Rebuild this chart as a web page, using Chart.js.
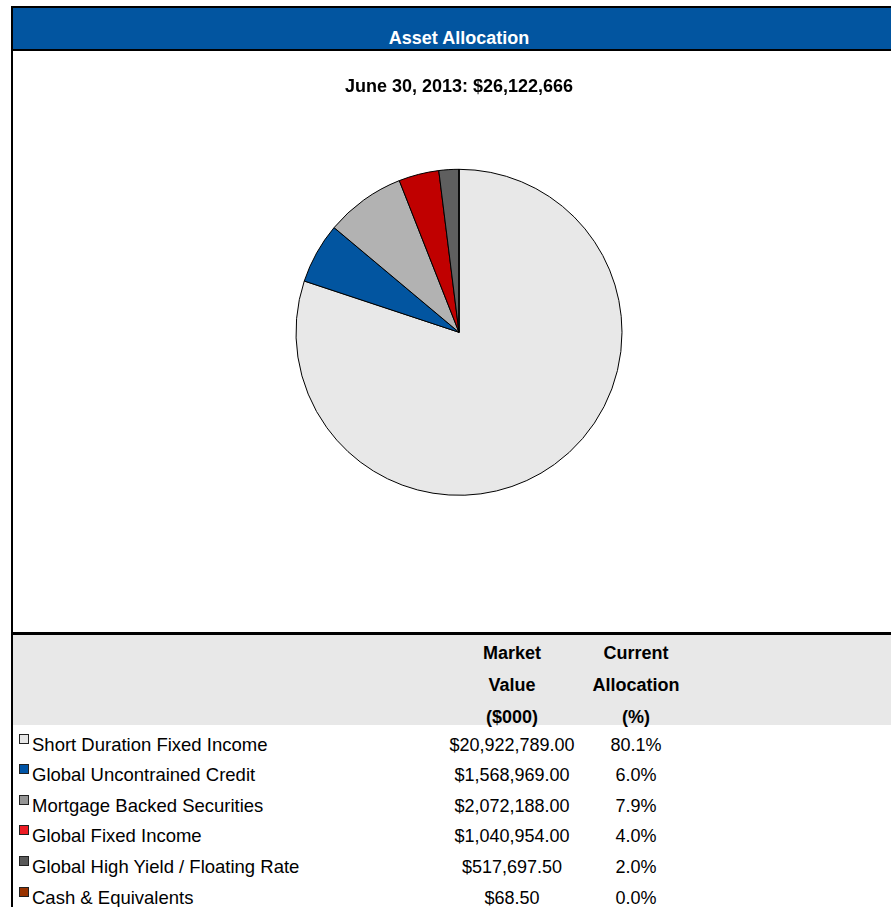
<!DOCTYPE html>
<html>
<head>
<meta charset="utf-8">
<script src="https://cdn.jsdelivr.net/npm/chart.js@4/dist/chart.umd.min.js"></script>
<style>
  html, body { margin: 0; padding: 0; background: #fff; }
  body { width: 891px; height: 907px; position: relative; overflow: hidden;
         font-family: "Liberation Sans", Arial, sans-serif; color: #000; }
  .abs { position: absolute; }
  #frameTop { left: 11px; top: 6px; width: 900px; height: 2px; background: #000; }
  #frameLeft { left: 11px; top: 6px; width: 2px; height: 910px; background: #000; }
  #banner { left: 13px; top: 8px; width: 892px; height: 41px; background: #0255A0; overflow: hidden;
            color: #fff; font-weight: bold; font-size: 18px; line-height: 60px; text-align: center; }
  #bannerRule { left: 13px; top: 49px; width: 900px; height: 2px; background: #000; }
  #chartBox { left: 13px; top: 51px; width: 892px; height: 581px; }
  #tableRule { left: 11px; top: 632px; width: 900px; height: 3px; background: #000; }
  #headBand { left: 13px; top: 635px; width: 900px; height: 90px; background: #E8E8E8; }
  .cell { position: absolute; height: 30px; line-height: 30px; font-size: 18px; white-space: nowrap; }
  .hd { font-weight: bold; text-align: center; width: 160px; }
  .num { text-align: center; width: 200px; }
  .lbl { left: 32px; font-size: 18.5px; }
  .sw { position: absolute; left: 19px; width: 10px; height: 10px; box-sizing: border-box;
        border: 1px solid #222; }
</style>
</head>
<body>
<div id="frameTop" class="abs"></div>
<div id="banner" class="abs">Asset Allocation</div>
<div id="bannerRule" class="abs"></div>
<div id="chartBox" class="abs"><canvas id="pie"></canvas></div>
<div id="tableRule" class="abs"></div>
<div id="headBand" class="abs"></div>
<div id="frameLeft" class="abs"></div>
<div id="table"></div>

<script>
// Portfolio holdings as of the report date
const reportTitle = "June 30, 2013: $26,122,666";
const categories = [
  "Short Duration Fixed Income",
  "Global Uncontrained Credit",
  "Mortgage Backed Securities",
  "Global Fixed Income",
  "Global High Yield / Floating Rate",
  "Cash & Equivalents"
];
const marketValues = [20922789.00, 1568969.00, 2072188.00, 1040954.00, 517697.50, 68.50];
const sliceColors = ["#E8E8E8", "#0255A0", "#B2B2B2", "#C00000", "#5F5F5F", "#993300"];
const swatchColors = ["#E6E6E6", "#0054A6", "#969696", "#ED1C24", "#595959", "#993300"];
const headerLines = [["Market", "Current"], ["Value", "Allocation"], ["($000)", "(%)"]];

const total = marketValues.reduce((a, b) => a + b, 0);

// Pie chart
new Chart(document.getElementById("pie"), {
  type: "pie",
  data: {
    labels: categories,
    datasets: [{
      data: marketValues,
      backgroundColor: sliceColors,
      borderColor: "#000",
      borderWidth: 1,
      radius: 163
    }]
  },
  options: {
    responsive: true,
    maintainAspectRatio: false,
    devicePixelRatio: 1,
    animation: false,
    layout: { padding: { top: 0, bottom: 75, left: 0, right: 0 } },
    plugins: {
      legend: { display: false },
      tooltip: { enabled: false },
      title: {
        display: true,
        text: reportTitle,
        color: "#000",
        font: { family: "'Liberation Sans', Arial, sans-serif", size: 18, weight: "bold", lineHeight: 1.2 },
        padding: { top: 25, bottom: 10 }
      }
    }
  }
});

// Holdings table below the chart
const table = document.getElementById("table");
const valueCenter = 512, pctCenter = 636;

headerLines.forEach((pair, i) => {
  const top = 652 + 32 * i - 14.5;
  const a = document.createElement("div");
  a.className = "cell hd";
  a.style.left = (valueCenter - 80) + "px";
  a.style.top = top + "px";
  a.textContent = pair[0];
  table.appendChild(a);
  const b = document.createElement("div");
  b.className = "cell hd";
  b.style.left = (pctCenter - 80) + "px";
  b.style.top = top + "px";
  b.textContent = pair[1];
  table.appendChild(b);
});

const money = v => "$" + v.toLocaleString("en-US", { minimumFractionDigits: 2, maximumFractionDigits: 2 });

categories.forEach((name, i) => {
  const center = 744 + 30.6 * i;
  const top = center - 14.5;

  const sw = document.createElement("div");
  sw.className = "sw";
  sw.style.top = (center - 10.5) + "px";
  sw.style.background = swatchColors[i];
  table.appendChild(sw);

  const lbl = document.createElement("div");
  lbl.className = "cell lbl";
  lbl.style.top = top + "px";
  lbl.textContent = name;
  table.appendChild(lbl);

  const val = document.createElement("div");
  val.className = "cell num";
  val.style.left = (valueCenter - 100) + "px";
  val.style.top = top + "px";
  val.textContent = money(marketValues[i]);
  table.appendChild(val);

  const pct = document.createElement("div");
  pct.className = "cell num";
  pct.style.left = (pctCenter - 100) + "px";
  pct.style.top = top + "px";
  pct.textContent = (marketValues[i] / total * 100).toFixed(1) + "%";
  table.appendChild(pct);
});
</script>
</body>
</html>
